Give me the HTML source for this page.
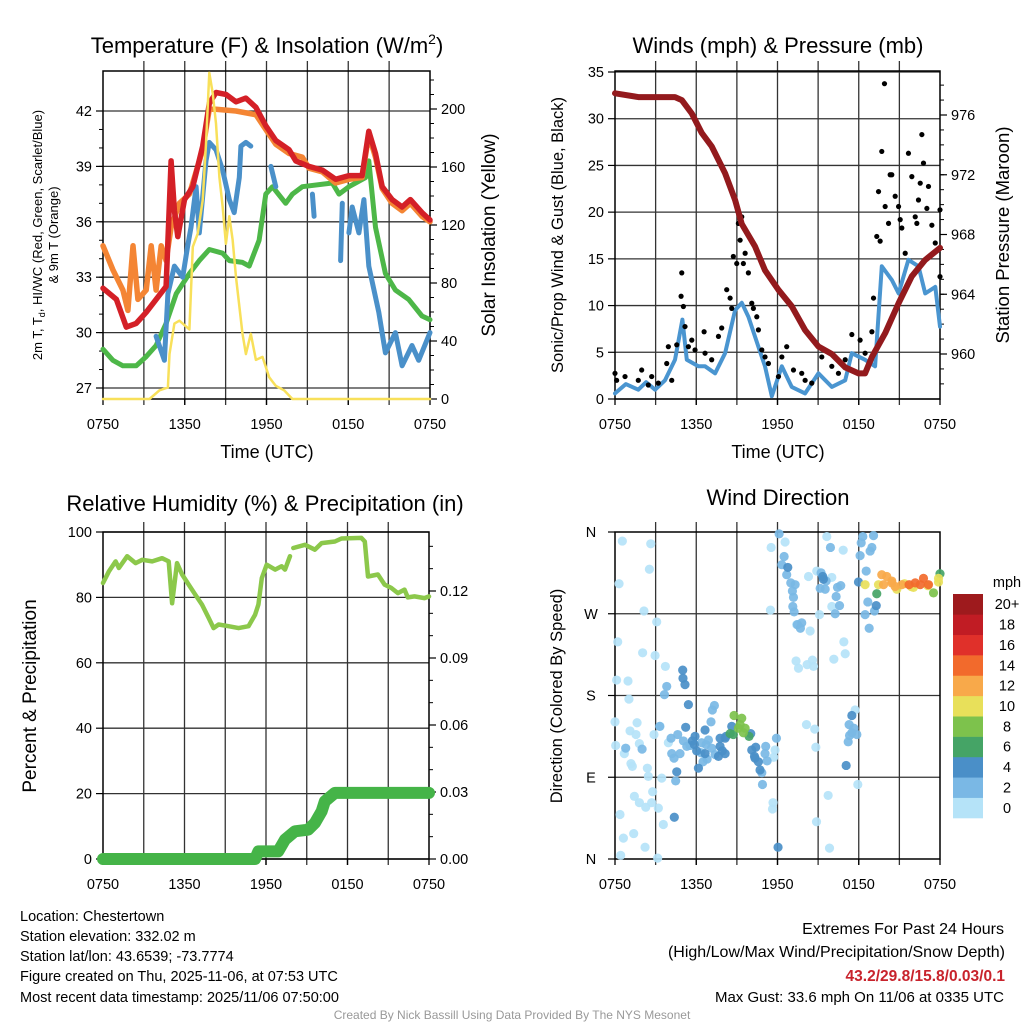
<!DOCTYPE html>
<html><head><meta charset="utf-8"><style>
html,body{margin:0;padding:0;background:#fff}
svg{display:block;font-family:"Liberation Sans",Arial,sans-serif}
</style></head><body>
<svg id="fig" width="1024" height="1024" viewBox="0 0 1024 1024" xmlns="http://www.w3.org/2000/svg">
<rect width="1024" height="1024" fill="#fff"/>
<g id="static" fill="#000">
<text x="267" y="53" font-size="22" text-anchor="middle">Temperature (F) &amp; Insolation (W/m<tspan font-size="14" dy="-9">2</tspan><tspan dy="9">)</tspan></text>
<text x="778" y="53" font-size="22" text-anchor="middle">Winds (mph) &amp; Pressure (mb)</text>
<text x="265" y="511" font-size="22" text-anchor="middle">Relative Humidity (%) &amp; Precipitation (in)</text>
<text x="778" y="505" font-size="22" text-anchor="middle">Wind Direction</text>
<text x="267" y="458" font-size="18" text-anchor="middle">Time (UTC)</text>
<text x="778" y="458" font-size="18" text-anchor="middle">Time (UTC)</text>
<text transform="translate(42,235) rotate(-90)" font-size="13" text-anchor="middle">2m T, T<tspan font-size="9" dy="3">d</tspan><tspan dy="-3">, HI/WC (Red, Green, Scarlet/Blue)</tspan></text>
<text transform="translate(58,235) rotate(-90)" font-size="13" text-anchor="middle">&amp; 9m T (Orange)</text>
<text transform="translate(495,235) rotate(-90)" font-size="19" text-anchor="middle">Solar Insolation (Yellow)</text>
<text transform="translate(563,235) rotate(-90)" font-size="16.5" text-anchor="middle">Sonic/Prop Wind &amp; Gust (Blue, Black)</text>
<text transform="translate(1009,235) rotate(-90)" font-size="18.5" text-anchor="middle">Station Pressure (Maroon)</text>
<text transform="translate(36,696) rotate(-90)" font-size="19" text-anchor="middle">Percent &amp; Precipitation</text>
<text transform="translate(562,696) rotate(-90)" font-size="16.5" text-anchor="middle">Direction (Colored By Speed)</text>
<g font-size="14.5">
<text x="20" y="921">Location: Chestertown</text>
<text x="20" y="941">Station elevation: 332.02 m</text>
<text x="20" y="961">Station lat/lon: 43.6539; -73.7774</text>
<text x="20" y="981">Figure created on Thu, 2025-11-06, at 07:53 UTC</text>
<text x="20" y="1002">Most recent data timestamp: 2025/11/06 07:50:00</text>
</g>
<g text-anchor="end">
<text x="1004" y="934" font-size="16">Extremes For Past 24 Hours</text>
<text x="1005" y="957" font-size="16">(High/Low/Max Wind/Precipitation/Snow Depth)</text>
<text x="1005" y="981" font-size="15.5" font-weight="bold" fill="#c8232c">43.2/29.8/15.8/0.03/0.1</text>
<text x="1004" y="1002" font-size="15">Max Gust: 33.6 mph On 11/06 at 0335 UTC</text>
</g>
<text x="512" y="1019" font-size="12" fill="#999" text-anchor="middle">Created By Nick Bassill Using Data Provided By The NYS Mesonet</text>
</g>
</svg>
<script>
// ---------- data (hours since 0750 UTC, value) ----------
const xTickLabels = ["0750","1350","1950","0150","0750"];
const tempTicks = [27,30,33,36,39,42];
const solarTicks = [0,40,80,120,160,200];
const windTicks = [0,5,10,15,20,25,30,35];
const presTicks = [960,964,968,972,976];
const rhTicks = [0,20,40,60,80,100];
const precipTicks = [0,0.03,0.06,0.09,0.12];
const dirLabels = ["N","E","S","W","N"];
const speedLabels = ["0","2","4","6","8","10","12","14","16","18","20+"];
const speedColors = ["#b5e3f8","#7ab8e5","#4a8fc8","#45a466","#7dc24c","#e8e05a","#f8a94a","#f26a2c","#e0302a","#c11c24","#9e1a1d"];

const tempRed = [[0,32.4],[0.98,31.8],[1.71,30.3],[2.44,30.5],[3.17,31.1],[3.9,31.8],[4.63,32.5],[5.0,39.3],[5.24,36.6],[5.49,35.2],[5.98,37.2],[6.59,37.9],[7.32,40.1],[7.8,42.4],[8.29,43.0],[9.02,42.9],[9.76,42.5],[10.49,42.7],[11.22,42.2],[11.95,41.2],[12.68,40.4],[13.66,39.9],[14.15,39.3],[15.12,39.0],[16.1,38.8],[17.07,38.3],[18.05,38.5],[19.02,38.5],[19.51,40.9],[20.0,39.7],[20.49,37.9],[21.22,37.2],[21.95,36.8],[22.56,37.2],[23.41,36.5],[24,36.1]];
const tempOrange = [[0,34.7],[0.73,33.4],[1.46,32.3],[1.83,31.2],[2.2,34.7],[2.56,31.8],[3.17,32.3],[3.54,34.7],[3.9,32.3],[4.27,34.7],[4.63,33.9],[5.0,35.7],[5.61,37.0],[6.34,37.5],[7.32,39.9],[7.8,42.1],[8.29,42.1],[9.76,42.0],[11.22,41.8],[11.95,41.0],[12.68,40.2],[13.66,39.7],[14.63,39.5],[15.12,38.9],[16.1,38.7],[17.07,38.1],[18.05,38.3],[19.02,38.4],[19.51,40.7],[20.0,39.5],[20.49,37.8],[21.22,37.0],[21.95,36.6],[22.56,37.0],[23.41,36.3],[24,36.0]];
const tempBlue = [[3.9,29.8],[4.51,28.5],[4.76,32.1],[5.24,33.6],[5.85,33.0],[6.22,34.7],[6.46,35.7],[6.83,37.9],[7.07,35.4],[7.56,39.3],[7.8,40.3],[8.29,39.9],[8.78,38.8],[9.27,37.2],[9.63,36.5],[10.0,38.4],[10.12,40.1],[10.49,40.3],[10.85,40.1],null,[12.32,39.0],[12.68,37.9],null,[15.37,37.5],[15.49,36.3],null,[17.44,33.9],[17.56,37.0],null,[18.05,35.4],[18.29,36.8],[18.78,35.4],[19.15,37.2],[19.51,33.6],[20.24,31.1],[20.73,28.9],[21.46,30.0],[21.95,28.2],[22.68,29.3],[23.17,28.5],[24,30.0]];
const tempGreen = [[0,29.1],[0.73,28.5],[1.46,28.2],[2.44,28.2],[3.17,28.7],[3.9,29.3],[4.63,30.5],[5.37,32.1],[6.34,33.2],[7.07,33.9],[7.8,34.5],[8.78,34.3],[9.27,33.9],[10.24,33.8],[10.73,33.6],[11.46,35.0],[11.95,37.5],[12.44,37.9],[13.41,37.0],[13.9,37.5],[14.63,37.9],[16.83,38.1],[17.32,37.5],[18.05,37.9],[19.27,38.4],[19.51,39.3],[20.0,35.7],[20.73,33.2],[21.46,32.3],[22.44,31.8],[23.41,30.9],[24,30.7]];
const solar = [[0,0],[3.41,0],[4.15,6],[4.76,8],[4.88,31],[5.24,52],[5.61,54],[6.34,48],[6.59,105],[6.95,114],[7.32,137],[7.56,176],[7.8,225],[8.05,211],[8.29,190],[8.54,153],[8.78,133],[9.02,107],[9.27,126],[9.51,110],[9.76,84],[10.24,45],[10.49,31],[10.85,45],[11.22,27],[11.71,29],[12.2,15],[12.68,9],[13.29,6],[13.9,0],[24,0]];

const windSust = [[0,0.6],[0.8,1.6],[1.72,1.0],[2.3,1.8],[2.96,1.0],[3.69,2.0],[4.43,4.2],[4.98,8.5],[5.3,4.2],[6.16,3.5],[6.65,3.5],[7.39,2.75],[8.13,4.9],[8.87,9.5],[9.36,10.3],[9.85,8.8],[10.59,5.6],[11.08,3.5],[11.58,0.3],[12.32,3.5],[13.05,1.3],[14.04,0.6],[15.02,2.75],[16.01,1.3],[17.0,2.0],[17.49,4.9],[18.47,4.2],[19.21,3.5],[19.7,14.2],[20.44,12.75],[20.94,11.3],[21.67,14.9],[22.41,14.2],[22.91,11.3],[23.65,12.0],[24,7.75]];
const windGust = [[0,2.75],[0.12,2.0],[0.74,2.4],[1.97,3.1],[2.71,2.4],[3.82,3.8],[3.94,5.6],[4.56,5.8],[4.93,13.5],[4.88,11.0],[5.05,9.9],[5.17,7.75],[5.42,5.6],[5.91,5.25],[6.58,7.2],[6.65,4.9],[7.64,6.7],[7.88,7.6],[8.25,11.7],[8.5,10.8],[8.62,9.7],[8.74,15.25],[8.99,14.5],[9.11,18.8],[9.36,19.5],[9.24,17.0],[9.48,14.5],[9.61,15.6],[9.85,13.5],[10.1,10.25],[10.22,9.7],[10.47,8.8],[10.59,7.4],[10.84,5.25],[11.08,4.5],[11.33,3.8],[12.32,4.5],[12.68,5.6],[13.18,3.1],[13.79,2.75],[14.53,1.7],[15.27,4.5],[16.01,3.5],[17.49,6.9],[18.1,6.3],[18.47,4.9],[18.97,7.2],[19.09,10.8],[19.33,17.4],[19.46,22.2],[19.7,26.5],[19.9,33.75],[19.95,20.6],[20.2,18.8],[20.32,24.0],[20.69,21.7],[20.94,20.6],[21.18,18.3],[21.43,15.6],[21.67,26.3],[21.92,23.8],[22.17,19.5],[22.54,23.1],[22.66,28.3],[22.78,25.25],[23.03,20.4],[23.15,22.75],[23.4,18.6],[23.65,16.7],[24,20.25],[24,13.1],[19.58,16.9],[20.44,24.0],[21.06,19.2],[22.41,21.3],[22.29,18.8],[1.72,2.0],[2.46,1.5],[3.2,1.7],[4.19,2.0],[5.67,6.3],[7.14,4.2],[12.07,2.4],[14.04,2.0],[16.5,2.75],[17.0,4.2]];
const pressure = [[0,977.45],[1.72,977.2],[2.96,977.2],[4.43,977.2],[4.93,977.0],[5.67,976.1],[6.4,974.8],[7.14,973.9],[8.13,972.1],[8.87,970.3],[9.36,968.7],[10.34,967.2],[11.08,965.6],[12.07,964.3],[13.05,963.2],[14.04,961.6],[15.02,960.5],[16.01,960.0],[17.0,959.1],[17.98,958.7],[18.47,958.7],[18.97,959.8],[19.95,961.4],[20.94,963.4],[21.92,965.2],[22.91,966.3],[24,967.1]];

const rh = [[0,84.4],[0.44,88.0],[0.93,91.0],[1.17,89.0],[1.78,92.6],[2.4,90.5],[2.89,91.5],[3.62,91.0],[4.35,92.0],[4.84,91.0],[5.09,78.2],[5.45,90.5],[5.82,87.0],[6.31,83.9],[6.8,80.8],[7.29,77.8],[7.78,73.7],[8.14,70.6],[8.51,71.7],[9.24,71.2],[9.98,70.6],[10.71,71.2],[11.2,74.7],[11.44,77.8],[11.69,85.9],[12.05,90.0],[12.67,88.5],[13.15,89.5],[13.4,88.5],[13.77,92.6],null,[14.01,95.1],[14.87,96.1],[15.6,94.6],[16.09,96.6],[17.07,97.1],[17.56,98.0],[19.02,98.2],[19.27,97.1],[19.51,86.4],[20.24,87.0],[20.73,83.9],[21.22,82.9],[21.71,81.3],[22.2,82.4],[22.44,80.0],[22.93,80.3],[23.67,79.8],[24,80.3]];
const precip = [[0,0],[11.2,0],[11.44,0.0034],[12.9,0.0034],[13.4,0.0087],[14.13,0.0124],[15.1,0.0131],[15.6,0.0161],[16.09,0.0213],[16.33,0.0258],[17.07,0.0296],[24,0.0296]];

const dirHours = [0.54,2.64,2.54,0.3,2.14,3.08,0.2,2.04,2.96,3.72,0.12,0.96,1.03,0,1.63,1.11,1.55,0.05,0.69,1.8,1.18,1.28,2.39,2.46,3.45,2.78,1.43,1.8,2.27,2.71,3.2,0.37,3.57,1.38,0.62,2.22,0.42,3.15,3.94,3.33,2.88,11.48,11.53,12.56,15.64,16.85,14.29,16.01,14.9,13.42,14.41,16.9,17.0,16.16,13.37,13.55,14.19,14.58,14.66,14.14,14.75,14.83,11.82,11.72,11.67,11.63,15.74,17.93,14.88,15.84,15.1,16.01,17.73,
12.12,12.49,12.68,12.98,13.3,13.1,13.18,13.13,13.23,13.47,13.79,13.69,15.22,15.15,15.52,15.59,16.43,16.67,16.33,16.58,16.26,18.3,18.55,18.84,18.67,18.47,18.77,19.16,3.82,3.65,7.34,7.19,7.09,3.3,4.14,4.63,5.05,4.19,4.36,4.8,5.3,5.54,6.4,6.72,6.35,6.9,7.14,6.5,6.8,7.39,11.13,11.23,11.92,11.08,10.84,10.89,17.29,17.64,17.32,17.49,17.22,17.86,0.79,2.0,4.48,
19.09,15.91,18.1,18.18,18.97,12.32,12.76,15.34,15.39,17.98,19.29,5.42,5.22,6.65,5.91,5.86,6.03,5.71,6.65,7.76,7.64,7.93,8.13,10.02,10.1,10.39,10.34,10.59,10.71,17.49,4.56,6.16,17.07,4.38,12.04,8.13,7.76,
5.02,5.17,10.3,8.2,8.62,
5.0,8.5,8.74,9.9,19.33,24,9.61,
8.79,9.36,9.11,9.48,9.24,23.52,21.38,22.04,23.89,
18.47,19.46,23.89,23.1,21.87,20.81,20.44,
19.7,20.07,20.44,19.83,20.69,21.18,21.72,22.17,22.78,23.15,
22.54];
const dirDegrees = [350,347,319,303,273,261,239,227,224,212,197,196,176,151,150,141,137,125,116,127,105,102,100,91,89,74,69,62,57,62,56,49,38,28,23,13,4,1,128,146,137,274,343,349,355,340,311,310,317,258,251,239,226,220,218,210,214,219,212,148,143,123,120,112,62,55,70,82,41,12,269,278,164,
358,333,313,304,302,295,288,278,272,258,260,254,315,298,297,306,299,301,289,279,270,355,317,339,283,269,254,273,190,181,169,164,151,146,133,137,130,116,111,116,124,125,128,126,117,131,122,107,110,115,124,108,133,116,95,82,148,144,136,139,129,137,122,121,86,
356,343,334,348,343,324,321,311,308,305,279,170,145,142,135,126,119,130,116,124,113,119,116,138,120,123,111,107,98,158,96,100,103,46,13,133,133,
199,192,113,135,146,
208,138,137,135,292,314,144,
158,155,144,139,148,293,303,299,309,
302,302,305,301,300,297,306,
313,311,304,302,300,302,302,304,309,302,
302];
const dirSpeeds = [].concat(
  Array(73).fill(1), Array(71).fill(3), Array(37).fill(5), Array(5).fill(7),
  Array(7).fill(9), Array(9).fill(11), Array(7).fill(13), Array(10).fill(15), [17]);

// ---------- helpers ----------
const NS = "http://www.w3.org/2000/svg";
const svg = document.getElementById("fig");
function el(tag, attrs, parent) {
  const e = document.createElementNS(NS, tag);
  for (const k in attrs) e.setAttribute(k, attrs[k]);
  (parent || svg).appendChild(e);
  return e;
}
function txt(x, y, s, size, anchor, parent) {
  const t = el("text", {x: x, y: y, "font-size": size, "text-anchor": anchor}, parent);
  t.textContent = s;
  return t;
}
function scaleX(p) { return h => p.x0 + h / 24 * (p.x1 - p.x0); }
function scaleY(p, lo, hi, ylo, yhi) { return v => ylo + (v - lo) / (hi - lo) * (yhi - ylo); }
function pathFrom(data, fx, fy) {
  let d = "", pen = false;
  for (const pt of data) {
    if (!pt) { pen = false; continue; }
    d += (pen ? "L" : "M") + fx(pt[0]).toFixed(1) + " " + fy(pt[1]).toFixed(1);
    pen = true;
  }
  return d;
}

const P1 = {x0: 103, x1: 430, y0: 71, y1: 399};
const P2 = {x0: 615, x1: 940, y0: 71, y1: 399};
const P3 = {x0: 103, x1: 429, y0: 532, y1: 859};
const P4 = {x0: 615, x1: 940, y0: 532, y1: 859};

function frame(p, name) {
  const g = el("g", {});
  
  
  const fx = scaleX(p);
  for (let h = 3; h < 24; h += 3) {
    const l = el("line", {x1: fx(h), x2: fx(h), y1: p.y0 - 10, y2: p.y1 + 6, stroke: "#333", "stroke-width": 1.3}, g);
    
    
  }
  for (let i = 0; i < 5; i++) {
    const h = i * 6;
    el("line", {x1: fx(h), x2: fx(h), y1: p.y1, y2: p.y1 + 6, stroke: "#000", "stroke-width": 1.3}, g);
    const t = txt(fx(h), p.y1 + 30, xTickLabels[i], 14.5, "middle", g);
    
    
  }
  return g;
}
function box(p, g) {
  el("rect", {x: p.x0, y: p.y0, width: p.x1 - p.x0, height: p.y1 - p.y0, fill: "none", stroke: "#000", "stroke-width": 1.5}, g);
}
function hgrid(p, ys, g) {
  for (const y of ys) el("line", {x1: p.x0, x2: p.x1, y1: y, y2: y, stroke: "#333", "stroke-width": 1.3}, g);
}
function leftAxis(p, ticks, fy, labels, minorStep, g) {
  ticks.forEach((v, i) => {
    el("line", {x1: p.x0 - 7, x2: p.x0, y1: fy(v), y2: fy(v), stroke: "#000", "stroke-width": 1.2}, g);
    const t = txt(p.x0 - 11, fy(v) + 5, labels ? labels[i] : String(v), 14.5, "end", g);
    
    
  });
  if (minorStep) {
    for (let v = ticks[0]; v <= ticks[ticks.length - 1] + 1e-9; v += minorStep) {
      const y = fy(v);
      if (y >= p.y0 && y <= p.y1) el("line", {x1: p.x0 - 4, x2: p.x0, y1: y, y2: y, stroke: "#000", "stroke-width": 1}, g);
    }
  }
}
function rightAxis(p, ticks, fy, labels, minorStep, lo, g) {
  ticks.forEach((v, i) => {
    el("line", {x1: p.x1, x2: p.x1 + 7, y1: fy(v), y2: fy(v), stroke: "#000", "stroke-width": 1.2}, g);
    const t = txt(p.x1 + 11, fy(v) + 5, labels[i], 14.5, "start", g);
    
    
  });
  for (let v = lo; ; v += minorStep) {
    const y = fy(v);
    if (y < p.y0) break;
    if (y <= p.y1) el("line", {x1: p.x1, x2: p.x1 + 4, y1: y, y2: y, stroke: "#000", "stroke-width": 1}, g);
  }
}
function line(data, fx, fy, color, w, name) {
  const e = el("path", {d: pathFrom(data, fx, fy), fill: "none", stroke: color, "stroke-width": w, "stroke-linejoin": "round", "stroke-linecap": "round"});
  
  
  return e;
}

// ---------- Panel 1: temperature ----------
{
  const g = frame(P1, "temperature");
  const fx = scaleX(P1);
  const fT = scaleY(P1, 27, 42, 388, 111);
  const fS = scaleY(P1, 0, 200, 399, 109);
  hgrid(P1, tempTicks.map(fT), g);
  leftAxis(P1, tempTicks, fT, null, 1, g);
  rightAxis(P1, solarTicks, fS, solarTicks.map(String), 10, 0, g);
  line(tempGreen, fx, fT, "#4db748", 5, "dewpoint-line");
  line(tempBlue, fx, fT, "#4a90c9", 5, "heat-index-windchill-line");
  line(tempOrange, fx, fT, "#f48534", 5.5, "temperature-9m-line");
  line(tempRed, fx, fT, "#d42027", 5.5, "temperature-2m-line");
  line(solar, fx, fS, "#f8e05a", 2.5, "solar-insolation-line");
  box(P1, g);
}
// ---------- Panel 2: winds ----------
{
  const g = frame(P2, "winds");
  const fx = scaleX(P2);
  const fW = scaleY(P2, 0, 35, 399, 72);
  const fP = scaleY(P2, 960, 976, 354, 115);
  hgrid(P2, windTicks.map(fW), g);
  leftAxis(P2, windTicks, fW, null, 0, g);
  rightAxis(P2, presTicks, fP, presTicks.map(String), 1, 958, g);
  line(windSust, fx, fW, "#4a95d0", 4, "sustained-wind-line");
  const gg = el("g", {fill: "#000"});
  
  
  for (const pt of windGust) {
    const c = el("circle", {cx: fx(pt[0]), cy: fW(pt[1]), r: 2.6}, gg);
    
    
  }
  line(pressure, fx, fP, "#931a1d", 6, "pressure-line");
  box(P2, g);
}
// ---------- Panel 3: humidity ----------
{
  const g = frame(P3, "humidity");
  const fx = scaleX(P3);
  const fR = scaleY(P3, 0, 100, 859, 532);
  const fPr = scaleY(P3, 0, 0.03, 859, 792);
  hgrid(P3, rhTicks.map(fR), g);
  leftAxis(P3, rhTicks, fR, null, 0, g);
  rightAxis(P3, precipTicks, fPr, precipTicks.map(v => v.toFixed(2)), 0.01, 0, g);
  line(rh, fx, fR, "#8cc84b", 4.5, "relative-humidity-line");
  line(precip, fx, fPr, "#45b448", 12, "precipitation-line");
  box(P3, g);
}
// ---------- Panel 4: wind direction ----------
{
  const g = frame(P4, "wind-direction");
  const fx = scaleX(P4);
  const fD = scaleY(P4, 0, 360, 859, 532);
  hgrid(P4, [90, 180, 270].map(fD), g);
  [0, 90, 180, 270, 360].forEach((v, i) => {
    el("line", {x1: P4.x0 - 7, x2: P4.x0, y1: fD(v), y2: fD(v), stroke: "#000", "stroke-width": 1.2}, g);
    const t = txt(P4.x0 - 24, fD(v) + 5, dirLabels[i], 14.5, "middle", g);
    
    
  });
  const pg = el("g", {});
  
  
  for (let i = 0; i < dirHours.length; i++) {
    const bin = Math.min(10, Math.floor(dirSpeeds[i] / 2));
    const c = el("circle", {cx: fx(dirHours[i]), cy: fD(dirDegrees[i]), r: 4.6, fill: speedColors[bin], "fill-opacity": 0.92}, pg);
    
    
  }
  box(P4, g);
  // colorbar
  const cb = el("g", {});
  
  
  const bh = 224 / 11;
  for (let i = 0; i < 11; i++) {
    const y = 818 - (i + 1) * bh;
    el("rect", {x: 953, y: y, width: 30, height: bh + 0.3, fill: speedColors[i]}, cb);
    const t = txt(1007, y + bh / 2 + 5, speedLabels[i], 14.5, "middle", cb);
    
    
  }
  const m = txt(1007, 587, "mph", 14.5, "middle", cb);
  
  
}
</script>
</body></html>
